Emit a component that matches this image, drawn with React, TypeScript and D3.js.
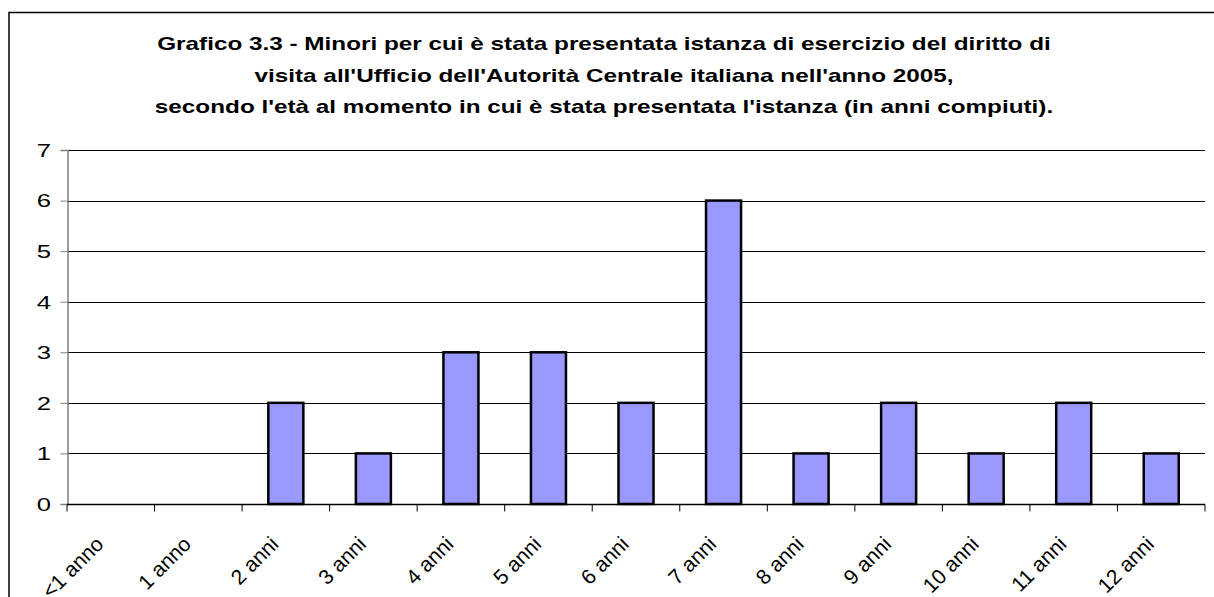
import React, { useEffect, useRef } from 'react';
import * as d3 from 'd3';

const categories = ['<1 anno', '1 anno', '2 anni', '3 anni', '4 anni', '5 anni', '6 anni', '7 anni', '8 anni', '9 anni', '10 anni', '11 anni', '12 anni'];
const values = [0, 0, 2, 1, 3, 3, 2, 6, 1, 2, 1, 2, 1];
const yTicks = [0, 1, 2, 3, 4, 5, 6, 7];
const titleLines = [
  'Grafico 3.3 - Minori per cui è stata presentata istanza di esercizio del diritto di',
  "visita all'Ufficio dell'Autorità Centrale italiana nell'anno 2005,",
  "secondo l'età al momento in cui è stata presentata l'istanza (in anni compiuti).",
];

const App: React.FC = () => {
  const svgRef = useRef<SVGSVGElement | null>(null);

  useEffect(() => {
    const width = 1214;
    const height = 597;
    const margin = { top: 150, right: 9, bottom: 93, left: 67 };
    const font = 'Arial, "Liberation Sans", sans-serif';
    const stretch = 1.35; // reference text is wider than it is tall

    const svg = d3.select(svgRef.current);
    svg.selectAll('*').remove();
    svg.attr('width', width).attr('height', height).style('display', 'block');

    // Outer frame (runs off the right and bottom edges)
    svg.append('rect')
      .attr('x', 9).attr('y', 12.5)
      .attr('width', width + 20).attr('height', height + 20)
      .attr('fill', 'white')
      .attr('stroke', 'black')
      .attr('stroke-width', 1.5);

    // Title
    const baselines = [50, 82, 113];
    svg.append('g')
      .selectAll('text')
      .data(titleLines)
      .enter()
      .append('text')
      .attr('transform', (d, i) => `translate(604,${baselines[i]}) scale(${stretch},1)`)
      .attr('text-anchor', 'middle')
      .attr('font-family', font)
      .attr('font-weight', 'bold')
      .attr('font-size', 18)
      .text(d => d);

    const x = d3.scaleBand()
      .domain(categories)
      .range([margin.left, width - margin.right])
      .padding(0);

    const y = d3.scaleLinear()
      .domain([0, 7])
      .range([height - margin.bottom, margin.top]);

    // Gridlines
    svg.append('g')
      .selectAll('line')
      .data(yTicks.filter(d => d > 0))
      .enter()
      .append('line')
      .attr('x1', margin.left)
      .attr('x2', width - margin.right)
      .attr('y1', d => Math.round(y(d)) + 0.5)
      .attr('y2', d => Math.round(y(d)) + 0.5)
      .attr('stroke', '#000')
      .attr('stroke-width', 1);

    // Bars
    const barW = x.step() * 0.4;
    svg.append('g')
      .selectAll('rect')
      .data(values.map((v, i) => ({ v, c: categories[i] })).filter(d => d.v > 0))
      .enter()
      .append('rect')
      .attr('x', d => (x(d.c) as number) + (x.step() - barW) / 2)
      .attr('y', d => y(d.v))
      .attr('width', barW)
      .attr('height', d => y(0) - y(d.v))
      .attr('fill', '#9999FF')
      .attr('stroke', '#000')
      .attr('stroke-width', 2.5);

    // Y axis
    const yAxis = svg.append('g')
      .attr('transform', `translate(${margin.left + 0.5},0)`)
      .call(d3.axisLeft(y).tickValues(yTicks).tickSize(7).tickFormat(() => ''));
    yAxis.select('.domain').attr('stroke', '#808080').attr('stroke-width', 1.5);
    yAxis.selectAll('.tick line').attr('stroke', '#808080');
    svg.append('g')
      .selectAll('text')
      .data(yTicks)
      .enter()
      .append('text')
      .attr('transform', d => `translate(51,${y(d)}) scale(${stretch},1)`)
      .attr('dy', '0.36em')
      .attr('text-anchor', 'end')
      .attr('font-family', font)
      .attr('font-size', 19)
      .text(d => d);

    // X axis
    const xg = svg.append('g')
      .attr('transform', `translate(0,${Math.round(y(0)) + 0.5})`);
    xg.append('line')
      .attr('x1', margin.left).attr('x2', width - margin.right)
      .attr('stroke', '#000').attr('stroke-width', 1.5);
    xg.selectAll('line.tick')
      .data(d3.range(categories.length + 1))
      .enter()
      .append('line')
      .attr('class', 'tick')
      .attr('x1', i => margin.left + i * x.step())
      .attr('x2', i => margin.left + i * x.step())
      .attr('y1', 0).attr('y2', 7)
      .attr('stroke', '#000');
    xg.selectAll('text')
      .data(categories)
      .enter()
      .append('text')
      .attr('transform', d => `translate(${(x(d) as number) + x.step() / 2 - 6},41) rotate(-45)`)
      .attr('text-anchor', 'end')
      .attr('font-family', font)
      .attr('font-size', 21)
      .text(d => d);
  }, []);

  return <svg ref={svgRef} style={{ position: 'absolute', left: 0, top: 0 }}></svg>;
};

export default App;
